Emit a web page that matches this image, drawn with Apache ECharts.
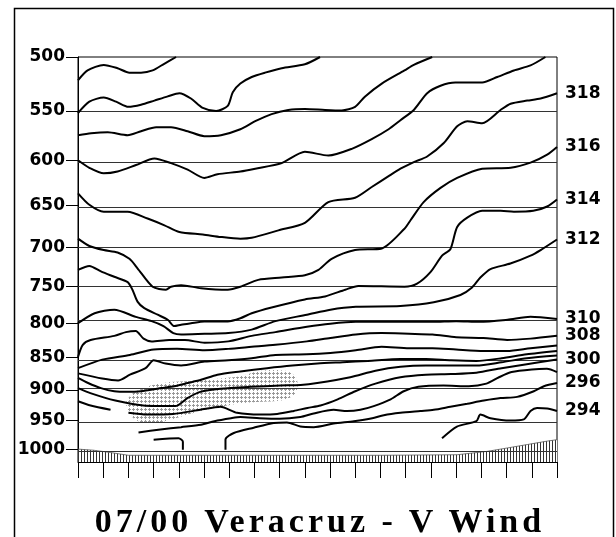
<!DOCTYPE html>
<html>
<head>
<meta charset="utf-8">
<script src="https://cdn.jsdelivr.net/npm/echarts@6/dist/echarts.min.js"></script>
<style>
html, body { margin: 0; padding: 0; background: #fff; }
#wrap { position: relative; width: 616px; height: 537px; }
#chart { width: 616px; height: 537px; }
#title {
    position: absolute; left: 12px; top: 502px; width: 616px; text-align: center;
    font-family: 'Liberation Serif', serif; font-weight: bold; font-size: 34px;
    letter-spacing: 4px; color: #000; white-space: nowrap;
}
</style>
</head>
<body>
<div id="wrap">
    <div id="chart"></div>
    <div id="title">07/00 Veracruz - V Wind</div>
</div>
<script>
// pressure levels (hPa) shown on the left axis
var pressureTicks = [500, 550, 600, 650, 700, 750, 800, 850, 900, 950, 1000]
var timeMax = 19

// isentropes, [time step, pressure]
var cA = [[0,521],[0.38,512],[1.02,507],[1.57,510],[2.04,514],[2.5,514],[2.96,512],[3.42,506],[3.89,500]]
var cB = [[0,552],[0.45,541],[1.02,537],[1.51,541],[2.0,546],[2.5,544],[3.03,540],[3.56,536],[4.02,533],[4.48,538],[4.95,547],[5.48,550],[5.94,545],[6.14,532],[6.44,524],[6.89,518],[7.42,514],[8.08,510],[9.0,506.5],[9.6,500]]
var cC = [[0,574],[0.52,572],[1.18,571],[1.97,574],[2.5,570],[3.1,566],[3.69,566],[4.35,570],[5.01,575],[5.67,574],[6.44,568],[7.03,560],[7.68,553],[8.34,549],[9.0,548],[9.8,549],[10.46,549.5],[10.99,546],[11.39,536],[12.05,524],[12.95,512],[13.32,507],[14.05,500]]
var cD = [[0,600],[0.45,608],[1.02,614],[1.57,612],[2.3,605],[3.03,598],[3.69,603],[4.35,610],[5.01,619],[5.53,615],[6.44,612],[7.03,609],[8.08,603],[9.0,591],[9.93,595],[10.86,588],[11.65,578],[12.32,568],[12.79,559],[13.32,549],[13.85,533],[14.38,526],[14.97,523],[16.03,523],[16.63,518],[17.29,512],[17.95,507.5],[18.54,500]]
var c318 = [[0,636],[0.45,649],[1.02,657],[1.97,657],[2.76,665],[3.43,673],[4.02,681],[4.95,684],[5.67,687],[6.44,689],[6.89,688],[7.95,679],[9.0,670],[9.93,646],[10.99,641],[11.65,629],[12.32,617],[12.79,609],[13.32,602],[13.85,596],[14.51,582],[15.04,565],[15.44,560],[16.03,562],[16.76,549],[17.16,543],[17.82,540],[18.35,538],[19,533]]
var c316 = [[0,689],[0.45,698],[1.02,703],[1.57,706],[2.04,714],[2.36,726],[2.96,750],[3.49,754],[3.69,750],[4.09,748],[4.88,752],[5.94,754],[6.44,750],[7.15,741],[8.08,738],[9.0,735],[9.54,728],[10.06,714],[10.99,703],[12.05,701],[12.95,677],[13.19,667],[13.71,646],[14.38,630],[15.04,619],[16.03,609],[17.16,608],[17.95,602.5],[18.61,594],[19,586]]
var c314 = [[0,728],[0.45,723],[0.91,730],[1.44,737],[1.97,744],[2.16,754],[2.36,770],[2.63,779],[3.16,788],[3.56,795],[3.82,804],[4.09,802],[4.48,800],[5.01,797.5],[5.94,797.5],[6.44,793],[6.89,786],[7.68,778],[9.0,767],[9.8,763],[10.6,754],[11.12,749],[12.95,750],[13.45,746],[13.98,731],[14.44,710],[14.77,702],[15.04,675],[15.44,664],[16.03,656],[16.76,656],[17.29,657],[18.06,656],[18.61,651],[19,643]]
var c312 = [[0,800],[0.66,786],[1.44,781],[2.29,791],[2.92,797],[3.39,804],[3.78,814],[4.09,816],[5.02,815],[5.96,814],[6.89,809],[7.83,797],[9.08,788],[10.01,781],[11.02,777],[12.79,776],[14.11,771],[15.17,761],[15.63,751],[15.96,738],[16.36,727],[17.15,720],[17.95,710],[18.35,703],[19,690]]
var c310 = [[0,849],[0.19,831],[0.5,824],[1.44,818],[1.9,812.6],[2.29,811],[2.6,822],[2.92,826],[3.62,824],[4.24,824],[5.02,828],[5.96,826],[6.89,818],[7.83,812.6],[9.08,805],[10.01,800.6],[11.02,798],[12.04,798],[13.13,798],[14.06,798],[15.0,797],[15.92,798],[17.04,795],[17.95,791],[19,794]]
var c308 = [[0,866],[0.96,853],[2.06,846],[3.0,838],[3.93,837],[5.02,839],[5.96,837],[6.89,834],[7.83,831],[9.08,826],[10.01,821],[11.02,816],[12.04,814],[13.13,815],[14.06,816],[15.0,820],[16.08,821],[17.02,824],[17.95,822],[19,818]]
var c306 = [[0,874],[0.96,882],[1.59,885],[2.06,876],[2.68,866],[3.0,854],[3.47,859],[4.09,862],[5.02,856],[5.96,854],[6.89,851],[7.83,846],[9.08,845],[10.01,843],[11.02,839],[12.04,834],[13.13,836],[14.06,836],[15.0,838],[16.08,840],[17.02,840],[17.95,836],[19,832]]
var c304 = [[0,881],[0.4,889],[0.91,897],[1.44,902],[1.97,903],[2.5,902],[3.29,897],[3.82,894],[4.35,889],[4.88,884],[5.53,876],[6.44,871],[7.5,866],[8.5,862],[9.5,859],[10.5,857],[11.5,855],[12.8,852],[13.8,852],[14.8,854],[15.8,855],[16.8,851],[17.8,845],[19,840]]
var c302 = [[0,897],[0.49,905],[1.48,917],[2.59,925],[3.86,926],[4.34,913],[4.85,903],[5.65,898],[6.84,895],[8.03,893],[8.83,892],[9.49,889],[10.8,880],[11.8,870],[12.79,864],[13.8,862],[14.8,862],[15.8,862],[16.8,857],[17.8,851],[19,847]]
var c300 = [[2.0,937],[2.74,940],[3.77,939],[4.85,932],[5.65,927],[6.31,937],[7.23,940],[7.9,939],[8.56,934],[9.1,929],[9.62,925],[10.3,915],[11.0,902],[11.8,890],[12.79,880],[13.8,876],[14.8,875],[15.8,873],[16.8,866],[17.8,860],[19,853]]
var c298 = [[2.4,970],[3.27,965],[4.09,961],[4.88,957],[5.41,951],[6.07,946],[6.44,944],[7.2,946],[8.0,947],[8.82,944],[9.35,938],[10.14,932],[10.67,934],[11.2,932],[11.73,926],[12.4,915],[12.92,902],[13.5,895],[14.5,893],[15.5,894],[16.2,890],[16.7,880],[17.2,872],[18.0,868],[18.6,867],[19,872]]
var c296 = [[5.85,1000],[5.85,982],[6.18,971],[6.97,962],[7.76,954],[8.29,953],[8.82,960],[9.35,961],[10.14,955],[10.94,951],[11.67,946],[12.13,941],[12.79,937],[13.58,934],[14.11,932],[14.77,927],[15.44,922],[16.1,917],[16.76,913],[17.42,911],[18.08,902],[18.48,894],[19,889]]
var c294 = [[14.44,980],[15.03,960],[15.8,951],[15.96,940],[16.36,946],[17.15,950],[17.68,948],[17.95,934],[18.21,929],[18.61,930],[19,934]]
var segLeft = [[0,918],[0.5,925],[1.29,932]]
var hook = [[3.0,982.5],[3.99,980],[4.16,986],[4.16,1000]]

// ground surface pressure and shaded (stippled) region outline
var surface = [[0,999],[0.62,1001],[1.28,1005],[2.0,1010],[8,1010],[12,1010],[15.04,1009],[16.23,1003],[17.03,997],[17.82,991],[18.61,985],[19,982.5]]
var stipple = [[1.92,919],[2.27,903],[3.27,889.5],[4.85,884.7],[6.44,878.4],[7.23,870],[8.23,870],[8.66,881],[8.66,903],[8.23,915.6],[7.23,919],[6.36,922],[5.45,928.6],[4.46,938.5],[3.66,948.5],[2.87,955.2],[2.27,948.5],[2.0,935]]
var pBottom = 1022

var contours = [
    {name: '', data: cA}, {name: '', data: cB}, {name: '', data: cC}, {name: '', data: cD},
    {name: '318', data: c318}, {name: '316', data: c316}, {name: '314', data: c314}, {name: '312', data: c312},
    {name: '310', data: c310}, {name: '308', data: c308}, {name: '', data: c306}, {name: '', data: c304},
    {name: '', data: c302}, {name: '300', data: c300}, {name: '', data: c298}, {name: '296', data: c296},
    {name: '294', data: c294}, {name: '', data: segLeft}, {name: '', data: hook}
]

function lp(p) { return Math.log(p) }
function toPlot(arr) { return arr.map(function (d) { return [d[0], lp(d[1])] }) }

function hatchPattern() {
    var c = document.createElement('canvas')
    c.width = 3; c.height = 6
    var ctx = c.getContext('2d')
    ctx.fillStyle = '#fff'
    ctx.fillRect(0, 0, 3, 6)
    ctx.fillStyle = '#333'
    ctx.fillRect(0, 0, 1, 6)
    return c
}
function dotPattern() {
    var c = document.createElement('canvas')
    c.width = 4; c.height = 4
    var ctx = c.getContext('2d')
    ctx.fillStyle = '#999'
    ctx.fillRect(1, 0, 1, 3)
    ctx.fillRect(0, 1, 3, 1)
    return c
}

var labelFont = {fontFamily: 'DejaVu Sans', fontWeight: 'bold', fontSize: 17, color: '#000'}
var logTicks = pressureTicks.map(lp)

var series = []
series.push({
    type: 'line',
    data: toPlot(surface),
    showSymbol: false,
    silent: true,
    lineStyle: {color: '#555', width: 0.8},
    areaStyle: {origin: 'end', color: {image: hatchPattern(), repeat: 'repeat'}, opacity: 1},
    markLine: {
        silent: true,
        symbol: ['none', 'none'],
        label: {show: false},
        lineStyle: {color: '#333', width: 1, type: 'solid'},
        data: logTicks.map(function (v) { return {yAxis: v} })
    },
    z: 1
})
series.push({
    type: 'custom',
    silent: true,
    data: toPlot(stipple),
    renderItem: function (params, api) {
        if (params.dataIndex !== 0) return
        var pts = toPlot(stipple).map(function (d) { return api.coord(d) })
        return {
            type: 'polygon',
            shape: {points: pts, smooth: 0.3},
            style: {fill: {image: dotPattern(), repeat: 'repeat'}, stroke: null}
        }
    },
    z: 2
})
contours.forEach(function (c) {
    var s = {
        type: 'line',
        name: c.name,
        data: toPlot(c.data),
        showSymbol: false,
        silent: true,
        smooth: 0.25,
        lineStyle: {color: '#000', width: 2},
        z: 5
    }
    if (c.name) {
        s.endLabel = Object.assign({show: true, distance: 8, formatter: '{a}'}, labelFont)
    }
    series.push(s)
})

var chart = echarts.init(document.getElementById('chart'))
chart.setOption({
    animation: false,
    backgroundColor: '#fff',
    grid: {left: 78, top: 57, width: 479, height: 405, show: true, borderColor: '#000', borderWidth: 1},
    xAxis: {
        type: 'value', min: 0, max: timeMax, interval: 1,
        axisLine: {show: true, lineStyle: {color: '#000', width: 1}},
        axisTick: {show: true, length: 16, lineStyle: {color: '#000', width: 1}},
        axisLabel: {show: false},
        splitLine: {show: false}
    },
    yAxis: {
        type: 'value', inverse: true, min: lp(500), max: lp(pBottom),
        axisLine: {show: true, lineStyle: {color: '#000', width: 1}},
        axisTick: {show: true, length: 12, customValues: logTicks, lineStyle: {color: '#000', width: 1}},
        axisLabel: Object.assign({
            customValues: logTicks, margin: 13,
            formatter: function (v) { return Math.round(Math.exp(v)) }
        }, labelFont),
        splitLine: {show: false}
    },
    graphic: [{
        type: 'rect', silent: true,
        shape: {x: 14.5, y: 8.5, width: 599, height: 545},
        style: {fill: 'none', stroke: '#000', lineWidth: 1.5}
    }],
    series: series
})
</script>
</body>
</html>
